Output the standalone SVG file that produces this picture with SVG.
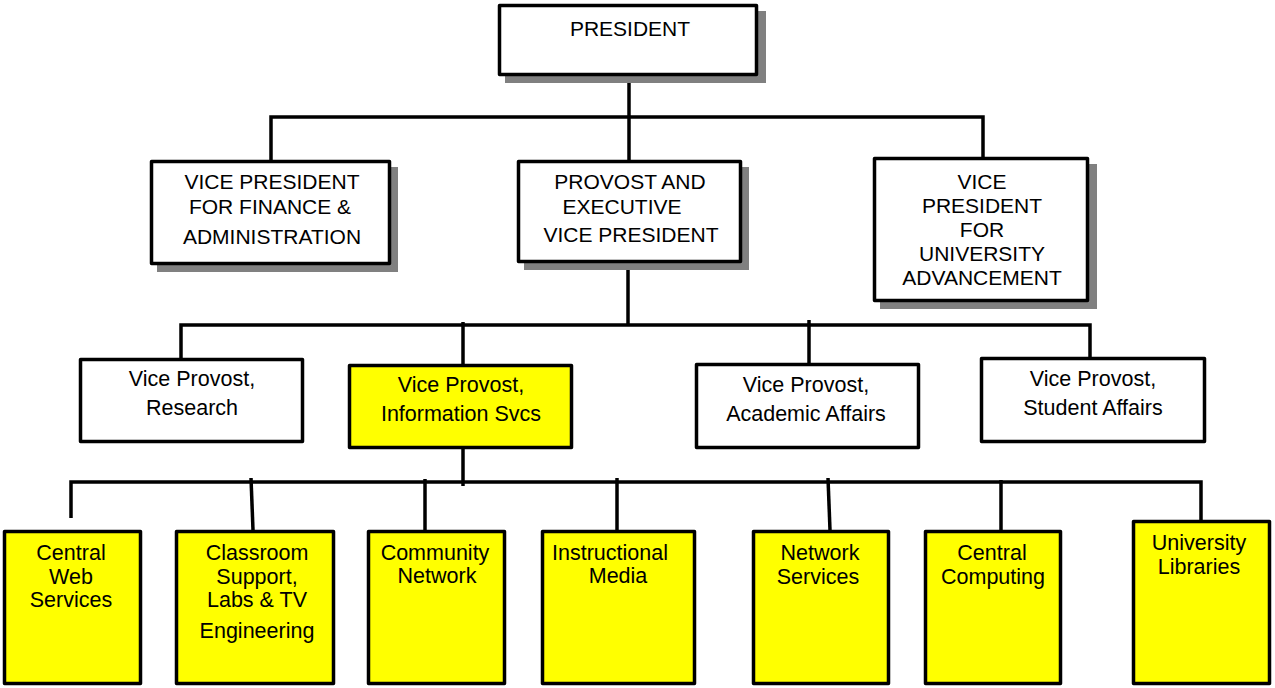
<svg xmlns="http://www.w3.org/2000/svg" width="1275" height="688" viewBox="0 0 1275 688">
  <style>
    .box { fill: #ffffff; stroke: #000000; stroke-width: 3.5; stroke-linejoin: round; }
    .hi { fill: #ffff00; }
    .shadow { fill: #808080; }
    .lbl { font-family: "Liberation Sans", Arial, sans-serif; font-size: 21px; fill: #000000; text-anchor: middle; }
    .sm { font-size: 21.5px; }
    .wire { fill: none; stroke: #000000; stroke-width: 3.5; stroke-linecap: butt; stroke-linejoin: miter; }
  </style>
  <rect width="1275" height="688" fill="#ffffff"/>

  <!-- connectors -->
  <g id="connectors" class="wire">
    <path d="M629,76 V160"/>
    <path d="M271,160 V117 H983 V157"/>
    <path d="M628,263 V325"/>
    <path d="M181,358 V325 H1090 V357"/>
    <path d="M463,322 V364"/>
    <path d="M809,320 V363"/>
    <path d="M463,449 V486"/>
    <path d="M71,518 V482 H1201 V520"/>
    <path d="M251,478 L253,530"/>
    <path d="M425,479 V530"/>
    <path d="M617,478 V530"/>
    <path d="M828,478 L830,530"/>
    <path d="M1001,480 V530"/>
  </g>

  <!-- executive level -->
  <g id="president">
    <rect class="shadow" x="505" y="11" width="261" height="72"/>
    <rect class="box" x="499.5" y="5.5" width="257" height="69"/>
    <text class="lbl" x="630" y="36">PRESIDENT</text>
  </g>

  <g id="vp-finance">
    <rect class="shadow" x="157" y="167" width="241" height="105"/>
    <rect class="box" x="151.5" y="161.5" width="238" height="102"/>
    <text class="lbl" x="272" y="189">VICE PRESIDENT</text>
    <text class="lbl" x="270" y="214">FOR FINANCE &amp;</text>
    <text class="lbl" x="272" y="244">ADMINISTRATION</text>
  </g>

  <g id="provost">
    <rect class="shadow" x="524" y="167" width="225" height="103"/>
    <rect class="box" x="518.5" y="161.5" width="222" height="100"/>
    <text class="lbl" x="630" y="189">PROVOST AND</text>
    <text class="lbl" x="622" y="214">EXECUTIVE</text>
    <text class="lbl" x="631" y="242">VICE PRESIDENT</text>
  </g>

  <g id="vp-advancement">
    <rect class="shadow" x="880" y="164" width="217" height="145"/>
    <rect class="box" x="874.5" y="158.5" width="213" height="142"/>
    <text class="lbl" x="982" y="189">VICE</text>
    <text class="lbl" x="982" y="213">PRESIDENT</text>
    <text class="lbl" x="982" y="237">FOR</text>
    <text class="lbl" x="982" y="261">UNIVERSITY</text>
    <text class="lbl" x="982" y="285">ADVANCEMENT</text>
  </g>

  <!-- vice provosts -->
  <g id="vp-research">
    <rect class="box" x="80.5" y="359.5" width="222" height="82"/>
    <text class="lbl sm" x="192" y="386">Vice Provost,</text>
    <text class="lbl sm" x="192" y="415">Research</text>
  </g>

  <g id="vp-info-svcs">
    <rect class="box hi" x="349.5" y="365.5" width="222" height="82"/>
    <text class="lbl sm" x="461" y="392">Vice Provost,</text>
    <text class="lbl sm" x="461" y="421">Information Svcs</text>
  </g>

  <g id="vp-academic">
    <rect class="box" x="696.5" y="364.5" width="222" height="83"/>
    <text class="lbl sm" x="806" y="392">Vice Provost,</text>
    <text class="lbl sm" x="806" y="421">Academic Affairs</text>
  </g>

  <g id="vp-student">
    <rect class="box" x="981.5" y="358.5" width="223" height="83"/>
    <text class="lbl sm" x="1093" y="386">Vice Provost,</text>
    <text class="lbl sm" x="1093" y="415">Student Affairs</text>
  </g>

  <!-- information services units -->
  <g id="central-web">
    <rect class="box hi" x="4.5" y="531.5" width="136" height="152"/>
    <text class="lbl sm" x="71" y="560">Central</text>
    <text class="lbl sm" x="71" y="584">Web</text>
    <text class="lbl sm" x="71" y="607">Services</text>
  </g>

  <g id="classroom-support">
    <rect class="box hi" x="176.5" y="531.5" width="157" height="152"/>
    <text class="lbl sm" x="257" y="560">Classroom</text>
    <text class="lbl sm" x="257" y="584">Support,</text>
    <text class="lbl sm" x="257" y="607">Labs &amp; TV</text>
    <text class="lbl sm" x="257" y="638">Engineering</text>
  </g>

  <g id="community-network">
    <rect class="box hi" x="368.5" y="531.5" width="136" height="152"/>
    <text class="lbl sm" x="435" y="560">Community</text>
    <text class="lbl sm" x="437" y="583">Network</text>
  </g>

  <g id="instructional-media">
    <rect class="box hi" x="542.5" y="531.5" width="152" height="152"/>
    <text class="lbl sm" x="610" y="560">Instructional</text>
    <text class="lbl sm" x="618" y="583">Media</text>
  </g>

  <g id="network-services">
    <rect class="box hi" x="753.5" y="531.5" width="135" height="152"/>
    <text class="lbl sm" x="820" y="560">Network</text>
    <text class="lbl sm" x="818" y="584">Services</text>
  </g>

  <g id="central-computing">
    <rect class="box hi" x="925.5" y="531.5" width="135" height="152"/>
    <text class="lbl sm" x="992" y="560">Central</text>
    <text class="lbl sm" x="993" y="584">Computing</text>
  </g>

  <g id="university-libraries">
    <rect class="box hi" x="1133.5" y="521.5" width="136" height="162"/>
    <text class="lbl sm" x="1199" y="550">University</text>
    <text class="lbl sm" x="1199" y="574">Libraries</text>
  </g>
</svg>
